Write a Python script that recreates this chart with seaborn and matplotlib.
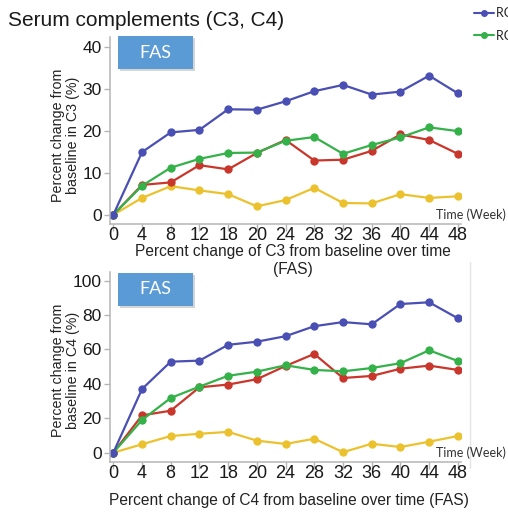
import matplotlib
matplotlib.use("Agg")
import matplotlib.pyplot as plt
import seaborn as sns
import pandas as pd
from matplotlib.lines import Line2D
from matplotlib.patches import Rectangle

# Visit weeks and treatment arms
weeks = [0, 4, 8, 12, 18, 20, 24, 28, 32, 36, 40, 44, 48]
groups = ["RC18 240 mg", "RC18 160 mg", "RC18 80 mg", "Placebo"]
colors = ["#4a4fb3", "#35b14a", "#c9372c", "#ebc22e"]

# Percent change from baseline in C3 (%)
c3_240 = [0, 14.9, 19.6, 20.2, 25.1, 25.0, 27.0, 29.4, 30.9, 28.6, 29.3, 33.1, 28.9]
c3_160 = [0, 6.9, 11.2, 13.3, 14.7, 14.8, 17.6, 18.5, 14.5, 16.6, 18.4, 20.8, 19.9]
c3_80 = [0, 7.1, 7.7, 11.8, 10.8, 14.7, 17.8, 12.9, 13.1, 15.2, 19.1, 17.8, 14.5]
c3_pbo = [0, 4.0, 6.8, 5.8, 4.9, 2.0, 3.5, 6.4, 2.8, 2.7, 4.9, 4.0, 4.4]

# Percent change from baseline in C4 (%)
c4_240 = [0, 37.0, 52.9, 53.5, 62.7, 64.5, 67.7, 73.5, 75.9, 74.6, 86.4, 87.4, 78.1]
c4_160 = [0, 19.0, 31.8, 38.4, 44.7, 47.1, 50.8, 48.1, 47.3, 49.2, 52.0, 59.5, 53.3]
c4_80 = [0, 21.7, 24.4, 38.0, 39.6, 42.7, 50.4, 57.4, 43.4, 44.6, 48.8, 50.6, 48.1]
c4_pbo = [0, 4.9, 9.7, 11.0, 12.1, 7.0, 5.1, 8.1, 0.3, 5.2, 3.3, 6.4, 9.7]

c3_ticks = [0, 10, 20, 30, 40]
c4_ticks = [0, 20, 40, 60, 80, 100]


def long_frame(series):
    rows = []
    for g, vals in zip(groups, series):
        for w, v in zip(weeks, vals):
            rows.append({"week": w, "value": v, "group": g})
    return pd.DataFrame(rows)


df_c3 = long_frame([c3_240, c3_160, c3_80, c3_pbo])
df_c4 = long_frame([c4_240, c4_160, c4_80, c4_pbo])

sns.set_theme(style="ticks")
plt.rcParams["font.family"] = ["Liberation Sans", "DejaVu Sans"]

W, H = 508, 512
fig = plt.figure(figsize=(W / 100, H / 100), dpi=100)
fig.patch.set_facecolor("white")

ax_c3 = fig.add_axes([110 / W, 1 - 224 / H, 351 / W, 187 / H])
ax_c4 = fig.add_axes([110 / W, 1 - 462 / H, 351 / W, 190 / H])
ax_c3.set_zorder(2)

palette = dict(zip(groups, colors))
draw_order = groups[::-1]
axis_grey = "#b5b5b5"

panels = [
    (ax_c3, df_c3, (-2.2, 42.3), c3_ticks,
     "Percent change from\nbaseline in C3 (%)",
     "Percent change of C3 from baseline over time\n(FAS)",
     (0.521, -0.193), (-0.127, 0.476)),
    (ax_c4, df_c4, (-5.4, 105.0), c4_ticks,
     "Percent change from\nbaseline in C4 (%)",
     "Percent change of C4 from baseline over time (FAS)",
     (0.51, -0.205), (-0.127, 0.484)),
]

for ax, df, ylim, yticks, ylab, xlab, xlab_pos, ylab_pos in panels:
    sns.pointplot(data=df, x="week", y="value", hue="group", order=weeks,
                  hue_order=draw_order, palette=palette, errorbar=None,
                  markers="o", markersize=6, markeredgewidth=0,
                  linewidth=1.6, legend=False, ax=ax)
    ax.set_xlim(-0.115, 12.11)
    ax.set_ylim(*ylim)
    ax.set_yticks(yticks)
    ax.patch.set_alpha(0)
    sns.despine(ax=ax)
    for side in ("left", "bottom"):
        ax.spines[side].set_color(axis_grey)
        ax.spines[side].set_linewidth(1.1)
    ax.tick_params(color=axis_grey, labelcolor="#1a1a1a", length=4, width=1)
    ax.tick_params(axis="x", labelsize=13, pad=-3, length=5)
    ax.tick_params(axis="y", labelsize=12.5, pad=2)

    ax.set_ylabel(ylab, fontsize=10.3, color="#222222", linespacing=1.05)
    ax.yaxis.set_label_coords(*ylab_pos)
    ax.yaxis.label.set_va("center")
    ax.set_xlabel(xlab, fontsize=11.2, color="#222222", linespacing=1.25)
    ax.xaxis.set_label_coords(*xlab_pos)
    ax.xaxis.label.set_va("center")

# Title
fig.text(8 / W, 1 - 26 / H, "Serum complements (C3, C4)", fontsize=15,
         color="#1a1a1a", ha="left", va="baseline")

# Axis-end labels
for y in (215, 453):
    fig.text(506 / W, 1 - y / H, "Time (Week)", fontsize=9, family=["Lato", "DejaVu Sans"],
             color="#333333", ha="right", va="center")

# "FAS" badges
for top in (36, 273):
    x0, x1, y0, y1 = 118, 193, top, top + 33
    fig.add_artist(Rectangle(((x0 + 2) / W, 1 - (y1 + 2) / H), (x1 - x0) / W, (y1 - y0) / H,
                             transform=fig.transFigure, facecolor="#c4c4c4",
                             edgecolor="none", alpha=0.7))
    fig.add_artist(Rectangle((x0 / W, 1 - y1 / H), (x1 - x0) / W, (y1 - y0) / H,
                             transform=fig.transFigure, facecolor="#5b9bd5",
                             edgecolor="none"))
    fig.text((x0 + x1) / 2 / W, 1 - (y0 + y1) / 2 / H, "FAS", fontsize=13,
             family=["Lato", "DejaVu Sans"], color="white", ha="center", va="center")

# Faint panel divider on the right of the C4 chart
fig.add_artist(Line2D([470 / W, 470 / W], [1 - 262 / H, 1 - 468 / H],
                      transform=fig.transFigure, color="#e4e4e4", linewidth=1))

# Legend in the top-right corner
handles = [Line2D([], [], color=c, marker="o", markersize=4, linewidth=1.5)
           for c in colors[:2]]
fig.legend(handles, groups[:2], loc="upper left", bbox_to_anchor=(474 / W, 1 - 7 / H),
           frameon=False, handlelength=1.6, handletextpad=0.15,
           labelspacing=0.85, borderaxespad=0, borderpad=0,
           prop={"family": ["Lato", "DejaVu Sans"], "size": 9})

fig.savefig("out.png", dpi=100, facecolor="white")
